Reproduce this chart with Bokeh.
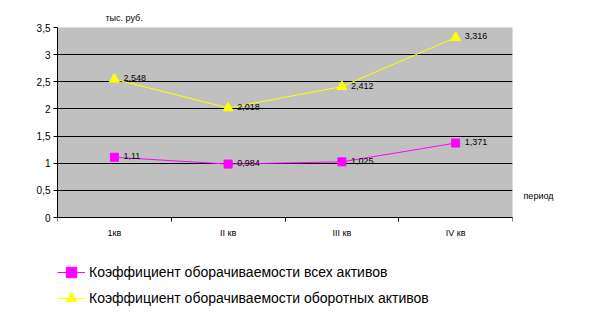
from bokeh.plotting import figure
from bokeh.models import (ColumnDataSource, FixedTicker, Legend, LegendItem, LinearAxis,
                          BoxAnnotation)
from bokeh.core.properties import value
from bokeh.embed import file_html
from bokeh.resources import INLINE

categories = ["1кв", "II кв", "III кв", "IV кв"]
all_assets = [1.11, 0.984, 1.025, 1.371]
current_assets = [2.548, 2.018, 2.412, 3.316]
all_labels = ["1,11", "0,984", "1,025", "1,371"]
current_labels = ["2,548", "2,018", "2,412", "3,316"]
y_ticks = [0, 0.5, 1, 1.5, 2, 2.5, 3, 3.5]
y_tick_labels = ["0", "0,5", "1", "1,5", "2", "2,5", "3", "3,5"]
series_names = ["Коэффициент оборачиваемости всех активов",
                "Коэффициент оборачиваемости оборотных активов"]
y_unit = "тыс. руб."
x_title = "период"

FONT = "Liberation Sans"
xs = [i + 0.5 for i in range(len(categories))]
Y_MAX = 3.5
# frame spans canvas y 27..318; value 0 sits at canvas y 217
px_per_unit = 190 / Y_MAX
y_start = -(318 - 217) / px_per_unit

src1 = ColumnDataSource(dict(x=xs, y=all_assets, t=all_labels))
src2 = ColumnDataSource(dict(x=xs, y=current_assets, t=current_labels))

p = figure(width=592, height=320, output_backend="svg", toolbar_location=None,
           x_range=(0, 4), y_range=(y_start, Y_MAX),
           min_border_left=57, min_border_right=80, min_border_top=27, min_border_bottom=2,
           title=y_unit)
p.border_fill_color = "white"
p.background_fill_color = "white"
p.outline_line_color = None

# grey plot area
p.add_layout(BoxAnnotation(left=0, right=4, bottom=0, top=Y_MAX, fill_color="#C0C0C0",
                           fill_alpha=1, line_color="#808080", line_width=1, level="image"))

p.title.align = "left"
p.title.offset = 48
p.title.standoff = 9
p.title.text_font = FONT
p.title.text_font_size = "9px"
p.title.text_font_style = "normal"
p.title.text_color = "black"

# grid
p.xgrid.visible = False
p.ygrid.ticker = FixedTicker(ticks=y_ticks)
p.ygrid.grid_line_color = "black"
p.ygrid.grid_line_width = 1

# y axis
p.yaxis.ticker = FixedTicker(ticks=y_ticks)
p.yaxis.bounds = (0, Y_MAX)
p.yaxis.major_label_overrides = {t: l for t, l in zip(y_ticks, y_tick_labels)}
p.yaxis.axis_line_color = "black"
p.yaxis.major_tick_out = 4
p.yaxis.major_tick_in = 0
p.yaxis.minor_tick_line_color = None
p.yaxis.major_label_text_font = FONT
p.yaxis.major_label_text_font_size = "10px"
p.yaxis.major_label_text_font_style = "normal"
p.yaxis.major_label_text_color = "black"
p.yaxis.major_label_standoff = 3

# x axis, pinned at value 0
p.xaxis.fixed_location = 0
p.xaxis.ticker = FixedTicker(ticks=xs, minor_ticks=[0, 1, 2, 3, 4])
p.xaxis.major_label_overrides = {x: c for x, c in zip(xs, categories)}
p.xaxis.major_tick_out = 0
p.xaxis.major_tick_in = 0
p.xaxis.minor_tick_out = 4
p.xaxis.minor_tick_in = 0
p.xaxis.minor_tick_line_color = "black"
p.xaxis.axis_line_color = "black"
p.xaxis.major_label_text_font = FONT
p.xaxis.major_label_text_font_size = "9px"
p.xaxis.major_label_text_font_style = "normal"
p.xaxis.major_label_text_color = "black"
p.xaxis.major_label_standoff = 6

# "период" label as a tick-less right axis with a single labelled position
period_pos = 0.39
right_axis = LinearAxis(ticker=FixedTicker(ticks=[period_pos]),
                        major_label_overrides={period_pos: x_title},
                        axis_line_color=None, major_tick_line_color=None,
                        minor_tick_line_color=None, major_tick_out=0, major_tick_in=0,
                        major_label_standoff=11, major_label_text_font=FONT,
                        major_label_text_font_size="9px", major_label_text_color="black")
p.add_layout(right_axis, "right")

# series
l1 = p.line("x", "y", source=src1, line_color="#FF00FF", line_width=1)
m1 = p.scatter("x", "y", source=src1, marker="square", size=8,
               fill_color="#FF00FF", line_color="#FF00FF")
l2 = p.line("x", "y", source=src2, line_color="#FFFF00", line_width=1)
m2 = p.scatter("x", "y", source=src2, marker="triangle", size=10,
               fill_color="#FFFF00", line_color="#FFFF00")

for s in (src1, src2):
    p.text("x", "y", text="t", source=s, x_offset=9, y_offset=-1,
           text_font=value(FONT), text_font_size="9px", text_color="black",
           text_baseline="middle", text_align="left")

legend = Legend(items=[LegendItem(label=series_names[0], renderers=[l1, m1]),
                       LegendItem(label=series_names[1], renderers=[l2, m2])],
                location=(0, 7), orientation="vertical",
                background_fill_alpha=0, border_line_color=None,
                glyph_width=28, glyph_height=26, label_height=26,
                label_standoff=4, spacing=0,
                padding=0, margin=0,
                label_text_font=FONT, label_text_font_size="14px",
                label_text_color="black")
p.add_layout(legend, "center")

open("out.html", "w").write(file_html(p, INLINE))
